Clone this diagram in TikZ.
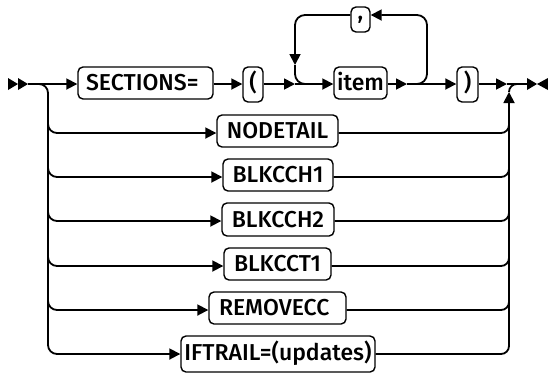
\documentclass[tikz,border=0pt]{standalone}
\usepackage{fontspec}
\newfontfamily\plex{Fira Sans Medium}
\usetikzlibrary{arrows.meta}
\begin{document}
\begin{tikzpicture}[x=1pt,y=-1pt,
  rail/.style={line width=1.8pt},
  tip/.style={-{Triangle[length=11pt,width=11pt]}},
  kw/.style={draw, line width=1.4pt, rounded corners=5pt, inner sep=0pt,
    font=\plex\fontsize{23}{23}\selectfont, text height=15.8pt, text depth=0pt,
    minimum height=32pt},
]
\useasboundingbox (0,0) rectangle (548,373);
% keyword boxes
\node[kw, minimum width=135pt, text width=119pt, align=left] (sec) at (145.5,83) {SECTIONS=};
\node[kw, minimum width=20pt, minimum height=35pt, text height=17pt, text depth=5pt] (lp) at (253,84.5) {(};
\node[kw, minimum width=53pt] (item) at (360.5,83) {item};
\node[kw, minimum width=19pt, minimum height=25pt, text height=3pt, text depth=3pt] (cm) at (360.5,19.5) {,};
\node[kw, minimum width=21pt, minimum height=35pt, text height=17pt, text depth=5pt] (rp) at (467.5,84.5) {)};
\node[kw, minimum width=121pt] (nd) at (277.5,131) {NODETAIL};
\node[kw, minimum width=110pt] (b1) at (278,175) {BLKCCH1};
\node[kw, minimum width=112pt, minimum height=33pt] (b2) at (278,219.5) {BLKCCH2};
\node[kw, minimum width=107pt] (t1) at (277.5,264) {BLKCCT1};
\node[kw, minimum width=137pt, text width=117pt, align=left] (rm) at (277.5,308) {REMOVECC};
\node[kw, minimum width=194pt, minimum height=36pt, text height=17pt, text depth=5pt] (ift) at (278,354) {IFTRAIL=(updates)};
% coordinates
\coordinate (s) at (28,84);
\coordinate (lj) at (295,84);
\coordinate (rj) at (407,84);
\coordinate (ej) at (507,84);
\coordinate (e) at (527,84);
\coordinate (lt) at (295,15);
\coordinate (rt) at (427,15);
\coordinate (ld) at (295,65);
\coordinate (up) at (509,92);
\coordinate (mj) at (517,84);
\foreach \n/\y in {1/133,2/177,3/221,4/266,5/310,6/354}{
  \coordinate (r\n) at (48,\y);
  \coordinate (q\n) at (509,\y);
}
% start and end marks
\fill (8,78) -- (18,84) -- (8,90) -- cycle;
\fill (18,78) -- (28,84) -- (18,90) -- cycle;
\fill (527,78) -- (537,84) -- (527,90) -- cycle;
\fill (548,78) -- (537,84) -- (548,90) -- cycle;
% main line
\draw[rail,tip] (s) -- (sec.west |- s);
\draw[rail,tip] (sec.east |- s) -- (lp.west |- s);
\draw[rail,tip] (lp.east |- s) -- (lj);
\draw[rail,tip] (lj) -- (item.west |- s);
\draw[rail,tip] (item.east |- s) -- (rj);
\draw[rail,tip] (rj) -- (rp.west |- s);
\draw[rail,tip] (rp.east |- s) -- (ej);
\draw[rail] (ej) -- (e);
% repeat loop
\draw[rail,tip,rounded corners=10pt] (rj) -- (rj -| rt) -- (rt) -- (cm.east |- rt);
\draw[rail,tip,rounded corners=10pt] (cm.west |- lt) -- (lt) -- (ld);
\draw[rail,rounded corners=10pt] (ld) -- (lj) -- ([xshift=10pt]lj);
% left branches
\draw[rail,tip,rounded corners=9pt] (s) -| (r6) -- (ift.west |- r6);
\draw[rail,tip,rounded corners=9pt] ([yshift=20pt]r1) |- (nd.west |- r1);
\draw[rail,tip,rounded corners=9pt] ([yshift=20pt]r2) |- (b1.west |- r2);
\draw[rail,tip,rounded corners=9pt] ([yshift=20pt]r3) |- (b2.west |- r3);
\draw[rail,tip,rounded corners=9pt] ([yshift=20pt]r4) |- (t1.west |- r4);
\draw[rail,tip,rounded corners=9pt] ([yshift=20pt]r5) |- (rm.west |- r5);
% right branches
\draw[rail,rounded corners=8pt] (nd.east |- q1) -| ([yshift=20pt]q1);
\draw[rail,rounded corners=8pt] (b1.east |- q2) -| ([yshift=20pt]q2);
\draw[rail,rounded corners=8pt] (b2.east |- q3) -| ([yshift=20pt]q3);
\draw[rail,rounded corners=8pt] (t1.east |- q4) -| ([yshift=20pt]q4);
\draw[rail,rounded corners=8pt] (rm.east |- q5) -| ([yshift=20pt]q5);
\draw[rail,tip,rounded corners=8pt] (ift.east |- q6) -| (up);
\draw[rail] (up) to[out=90,in=180] (mj);
\end{tikzpicture}
\end{document}
